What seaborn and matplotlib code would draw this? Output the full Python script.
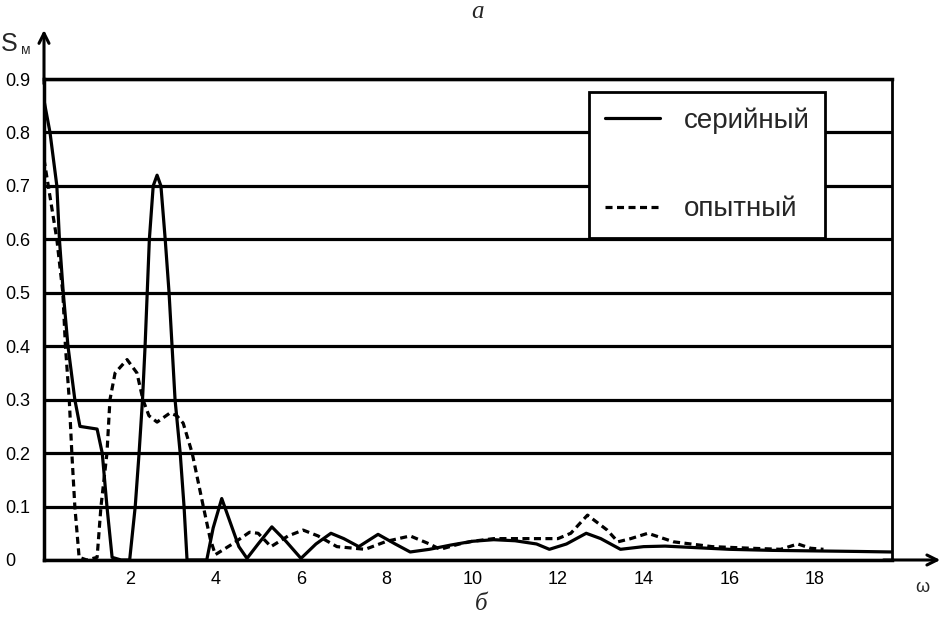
import matplotlib
matplotlib.use("Agg")
import matplotlib.pyplot as plt
import seaborn as sns
import pandas as pd

# ---- data ----
serial_x = [0.0, 0.14, 0.30, 0.36, 0.45, 0.56, 0.72, 0.84, 1.0, 1.24, 1.36, 1.47, 1.59, 1.8, 2.0,
            2.13, 2.22, 2.30, 2.36, 2.41, 2.46, 2.55, 2.64, 2.73, 2.83, 2.92, 2.99, 3.06, 3.18,
            3.27, 3.34, 3.8, 3.95, 4.15, 4.35, 4.55, 4.74, 5.0, 5.32, 5.65, 6.0, 6.35, 6.7, 7.0,
            7.35, 7.8, 8.2, 8.55, 9.0, 9.5, 10.0, 10.5, 11.0, 11.5, 11.8, 12.2, 12.66, 13.0,
            13.46, 14.0, 14.5, 15.0, 16.0, 17.0, 18.0, 19.0, 19.8]
serial_y = [0.86, 0.80, 0.70, 0.60, 0.50, 0.40, 0.30, 0.25, 0.248, 0.245, 0.20, 0.10, 0.005, 0.0, 0.0,
            0.10, 0.20, 0.30, 0.40, 0.50, 0.60, 0.70, 0.72, 0.70, 0.60, 0.50, 0.40, 0.30, 0.20,
            0.10, 0.0, 0.0, 0.06, 0.115, 0.07, 0.025, 0.003, 0.03, 0.062, 0.035, 0.003, 0.03, 0.05, 0.04,
            0.025, 0.048, 0.03, 0.015, 0.02, 0.028, 0.035, 0.038, 0.036, 0.03, 0.02, 0.03, 0.05, 0.04,
            0.02, 0.025, 0.026, 0.024, 0.02, 0.018, 0.017, 0.016, 0.015]

exper_x = [0.0, 0.10, 0.30, 0.44, 0.50, 0.59, 0.65, 0.72, 0.82, 1.0, 1.24, 1.33, 1.47, 1.54, 1.66,
           1.94, 2.17, 2.31, 2.45, 2.64, 2.94, 3.1, 3.25, 3.46, 3.72, 3.88, 4.0, 4.4, 4.8, 5.0,
           5.3, 5.7, 6.05, 6.4, 6.84, 7.5, 8.0, 8.55, 9.0, 9.25, 9.7, 10.0, 10.5, 11.3, 12.0,
           12.3, 12.69, 13.15, 13.4, 13.7, 14.1, 14.7, 15.6, 16.5, 17.2, 17.6, 17.9, 18.2]
exper_y = [0.75, 0.70, 0.60, 0.50, 0.40, 0.30, 0.20, 0.10, 0.005, 0.0, 0.005, 0.10, 0.20, 0.30, 0.35,
           0.375, 0.35, 0.30, 0.27, 0.258, 0.275, 0.27, 0.256, 0.20, 0.10, 0.04, 0.01, 0.03, 0.052, 0.05,
           0.025, 0.045, 0.056, 0.045, 0.025, 0.02, 0.035, 0.045, 0.03, 0.02, 0.03, 0.035, 0.04, 0.04, 0.04,
           0.05, 0.084, 0.056, 0.034, 0.04, 0.05, 0.034, 0.025, 0.022, 0.02, 0.03, 0.022, 0.02]

series_names = ["серийный", "опытный"]
x_ticks = [2, 4, 6, 8, 10, 12, 14, 16, 18]
y_ticks = [0, 0.1, 0.2, 0.3, 0.4, 0.5, 0.6, 0.7, 0.8, 0.9]
y_tick_labels = ["0", "0.1", "0.2", "0.3", "0.4", "0.5", "0.6", "0.7", "0.8", "0.9"]

df = pd.concat([
    pd.DataFrame({"omega": serial_x, "S": serial_y, "series": series_names[0]}),
    pd.DataFrame({"omega": exper_x, "S": exper_y, "series": series_names[1]}),
], ignore_index=True)

sns.set_theme(style="white")
plt.rcParams["font.family"] = ["Liberation Sans", "DejaVu Sans"]

fig = plt.figure(figsize=(9.46, 6.2), dpi=100)
ax = fig.add_axes([44 / 946, 60 / 620, 848 / 946, 481 / 620])

sns.lineplot(data=df, x="omega", y="S", hue="series", style="series",
             palette={series_names[0]: "black", series_names[1]: "black"},
             dashes={series_names[0]: "", series_names[1]: (2.2, 1.4)},
             linewidth=2.3, sort=False, estimator=None, ax=ax, zorder=3)

ax.set_xlim(0, 19.8)
ax.set_ylim(0, 0.9)
ax.set_xticks(x_ticks)
ax.set_xticklabels([str(t) for t in x_ticks])
ax.set_yticks(y_ticks)
ax.set_yticklabels(y_tick_labels)
ax.set_xlabel("")
ax.set_ylabel("")

ax.yaxis.grid(True, color="black", linewidth=2.3)
ax.xaxis.grid(False)
ax.set_axisbelow(True)

ax.tick_params(axis="x", length=3, width=1.5, color="black", direction="out", pad=5,
               labelsize=13, labelcolor="black")
ax.tick_params(axis="y", length=0, pad=28, labelsize=13, labelcolor="black")
for lbl in ax.get_yticklabels():
    lbl.set_horizontalalignment("left")

for side, lw in [("left", 2.5), ("bottom", 2.5), ("top", 2.5), ("right", 2.0)]:
    ax.spines[side].set_visible(True)
    ax.spines[side].set_color("black")
    ax.spines[side].set_linewidth(lw)

# axis arrows
ax.annotate("", xy=(1.057, 0), xytext=(0.99, 0), xycoords="axes fraction",
            arrowprops=dict(arrowstyle="->", lw=2.2, color="black", shrinkA=0, shrinkB=0,
                            mutation_scale=18),
            annotation_clip=False)
ax.annotate("", xy=(0, 1.102), xytext=(0, 0.99), xycoords="axes fraction",
            arrowprops=dict(arrowstyle="->", lw=2.2, color="black", shrinkA=0, shrinkB=0,
                            mutation_scale=18),
            annotation_clip=False)

leg = ax.legend(loc="upper left", bbox_to_anchor=(0.643, 0.973), frameon=True, fancybox=False,
                edgecolor="black", fontsize=20, handlelength=2.0, handletextpad=0.85,
                labelspacing=2.25, borderpad=0.55, borderaxespad=0, framealpha=1, title=None)
leg.get_frame().set_linewidth(2)
for h in leg.get_lines():
    h.set_linewidth(2.3)

# annotations
fig.text(478 / 946, 1 - 12 / 620, "а", fontsize=18, style="italic",
         family=["Liberation Serif", "DejaVu Serif"], ha="center", va="center")
fig.text(481 / 946, 1 - 604 / 620, "б", fontsize=18, style="italic",
         family=["Liberation Serif", "DejaVu Serif"], ha="center", va="center")
fig.text(922 / 946, 1 - 588 / 620, "ω", fontsize=13, ha="center", va="center")
fig.text(1 / 946, 1 - 44 / 620, "S", fontsize=18, ha="left", va="center")
fig.text(21 / 946, 1 - 50 / 620, "м", fontsize=10, ha="left", va="center")

fig.savefig("out.png", dpi=100)
